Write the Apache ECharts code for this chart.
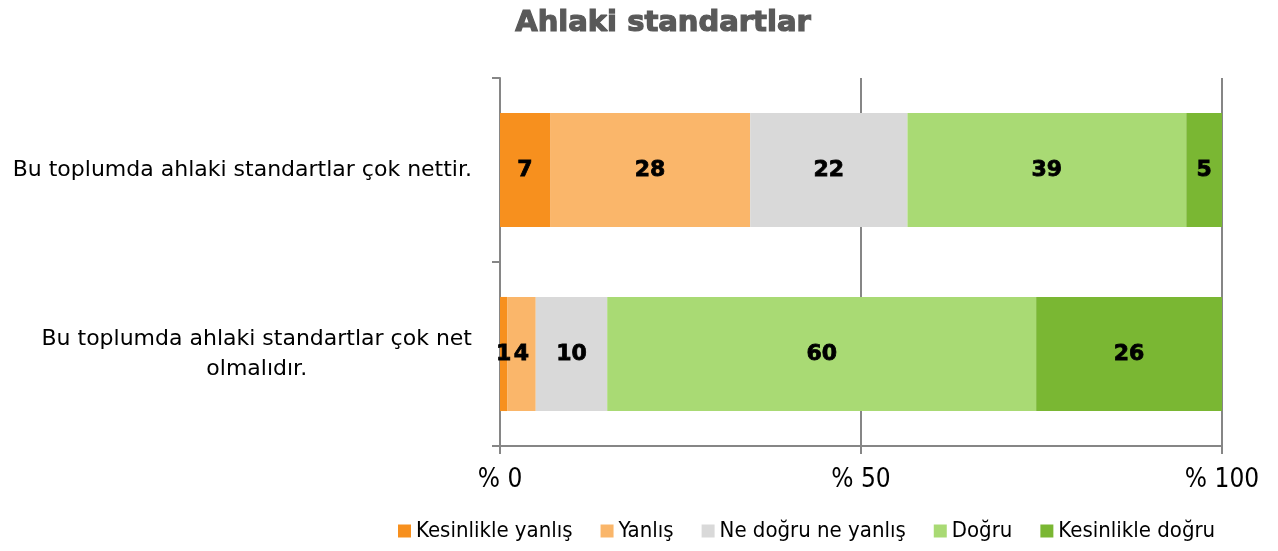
<!DOCTYPE html>
<html>
<head>
<meta charset="utf-8">
<title>Ahlaki standartlar</title>
<script src="https://cdn.jsdelivr.net/npm/echarts@6/dist/echarts.min.js"></script>
<style>
    html, body { margin: 0; padding: 0; background: #fff; }
    #chart { width: 1278px; height: 551px; }
</style>
</head>
<body>
<div id="chart"></div>
<script>
    // sorular (yukaridan asagiya)
    var categories = [
        'Bu toplumda ahlaki standartlar çok nettir.',
        'Bu toplumda ahlaki standartlar çok net\nolmalıdır.'
    ];
    var seriesNames = ['Kesinlikle yanlış', 'Yanlış', 'Ne doğru ne yanlış', 'Doğru', 'Kesinlikle doğru'];
    var kesinlikleYanlis = [7, 1];
    var yanlis = [28, 4];
    var neDogruNeYanlis = [22, 10];
    var dogru = [39, 60];
    var kesinlikleDogru = [5, 26];
    var xTicks = [0, 50, 100];
    var colors = ['#F7901E', '#FAB66A', '#D9D9D9', '#A9DA74', '#7AB733'];

    var raw = [kesinlikleYanlis, yanlis, neDogruNeYanlis, dogru, kesinlikleDogru];

    // her satir %100'e tamamlanir
    var totals = categories.map(function (c, i) {
        var s = 0;
        raw.forEach(function (arr) { s += arr[i]; });
        return s;
    });

    var narrow = 'Liberation Sans Narrow, DejaVu Sans Condensed, sans-serif';

    var chart = echarts.init(document.getElementById('chart'));

    var series = raw.map(function (arr, k) {
        return {
            name: seriesNames[k],
            type: 'bar',
            stack: 'toplam',
            barCategoryGap: '38%',
            itemStyle: {color: colors[k]},
            label: {
                show: true,
                position: 'inside',
                color: '#000',
                fontFamily: 'DejaVu Sans',
                fontWeight: 'bold',
                fontSize: 22,
                textBorderColor: '#000',
                textBorderWidth: 0.8,
                formatter: function (p) { return arr[p.dataIndex]; }
            },
            data: arr.map(function (v, i) { return v / totals[i] * 100; })
        };
    });

    var option = {
        animation: false,
        color: colors,
        title: {
            text: 'Ahlaki standartlar',
            left: 658,
            top: 4,
            textAlign: 'center',
            textStyle: {
                color: '#595959',
                fontFamily: 'DejaVu Sans',
                fontWeight: 'bold',
                fontSize: 29,
                textBorderColor: '#595959',
                textBorderWidth: 1.2
            }
        },
        legend: {
            left: 393,
            bottom: 4,
            itemWidth: 13,
            itemHeight: 13,
            itemGap: 28,
            icon: 'rect',
            data: seriesNames,
            textStyle: {
                color: '#000',
                fontFamily: narrow,
                fontSize: 22
            }
        },
        grid: {
            left: 500,
            right: 56,
            top: 78,
            bottom: 105,
            containLabel: false
        },
        xAxis: {
            type: 'value',
            min: 0,
            max: 100,
            interval: 50,
            axisLine: {show: true, lineStyle: {color: '#868686', width: 2}},
            axisTick: {show: true, length: 8, lineStyle: {color: '#868686', width: 2}},
            splitLine: {show: true, lineStyle: {color: '#868686', width: 2}},
            axisLabel: {
                margin: 21,
                color: '#000',
                fontFamily: narrow,
                fontSize: 26,
                customValues: xTicks,
                formatter: function (v) { return '% ' + v; }
            }
        },
        yAxis: {
            type: 'category',
            inverse: true,
            data: categories,
            axisLine: {show: true, lineStyle: {color: '#868686', width: 2}},
            axisTick: {show: true, length: 8, lineStyle: {color: '#868686', width: 2}},
            axisLabel: {
                margin: 28,
                color: '#000',
                formatter: function (v) {
                    return v.split('\n').map(function (s) { return '{c|' + s + '}'; }).join('\n');
                },
                rich: {
                    c: {
                        align: 'center',
                        fontFamily: 'DejaVu Sans',
                        fontSize: 22,
                        lineHeight: 30,
                        color: '#000'
                    }
                }
            }
        },
        series: series
    };

    chart.setOption(option);
</script>
</body>
</html>
